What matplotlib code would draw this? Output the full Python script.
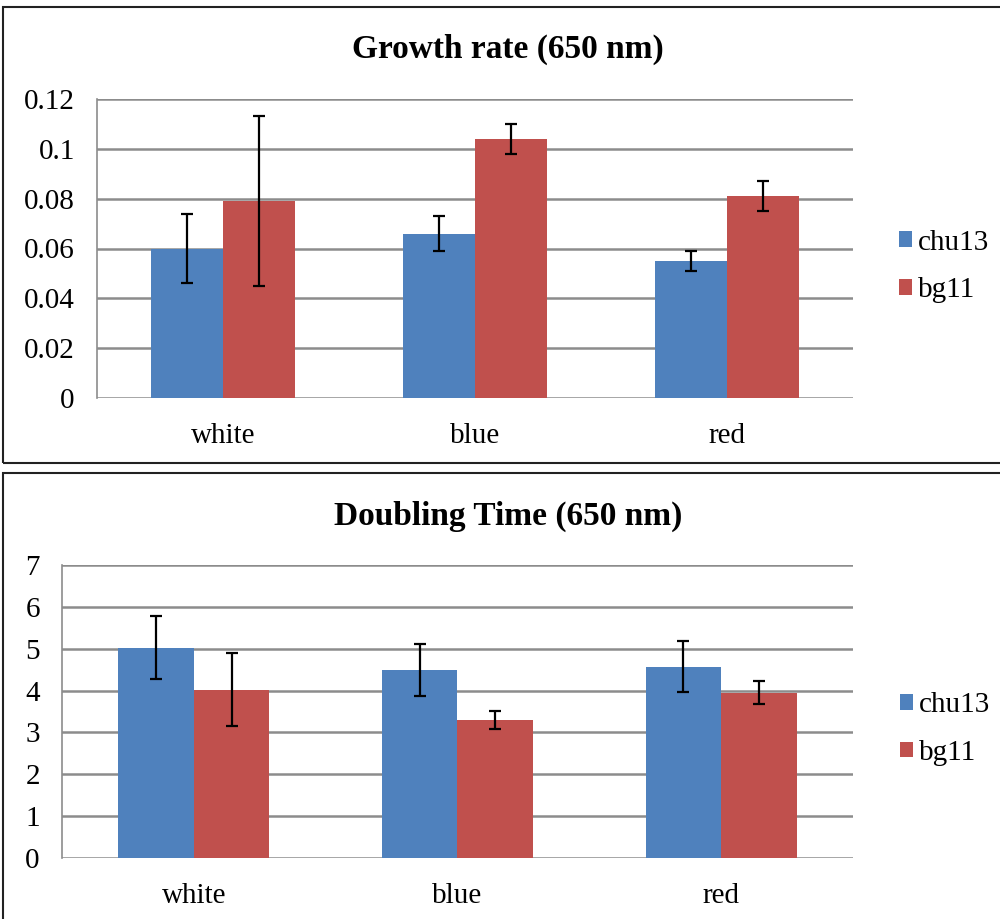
import matplotlib
matplotlib.use("Agg")
import matplotlib.pyplot as plt
import numpy as np
from matplotlib.patches import Rectangle

plt.rcParams['font.family'] = ['Liberation Serif', 'DejaVu Serif']

categories = ['white', 'blue', 'red']
series_names = ['chu13', 'bg11']

growth_chu13 = [0.060, 0.066, 0.055]
growth_chu13_err = [0.014, 0.007, 0.004]
growth_bg11 = [0.079, 0.104, 0.081]
growth_bg11_err = [0.034, 0.006, 0.006]

doubling_chu13 = [5.02, 4.50, 4.57]
doubling_chu13_err = [0.75, 0.62, 0.61]
doubling_bg11 = [4.02, 3.30, 3.95]
doubling_bg11_err = [0.87, 0.21, 0.28]

blue = '#4f81bd'
red = '#c0504d'
grid_col = '#8c8c8c'

W, H = 1000, 919
fig = plt.figure(figsize=(W / 100, H / 100), dpi=100)


def box(x0, y0, x1, y1):
    # pixel coords, origin top-left
    r = Rectangle((x0 / W, 1 - y1 / H), (x1 - x0) / W, (y1 - y0) / H,
                  transform=fig.transFigure, fill=False, edgecolor='#222222',
                  linewidth=1.5, clip_on=False)
    fig.add_artist(r)


def axes_px(x0, y0, x1, y1):
    return fig.add_axes([x0 / W, 1 - y1 / H, (x1 - x0) / W, (y1 - y0) / H])


def draw(ax, title, v1, e1, v2, e2, ymax, step, ylabels, title_y):
    x = np.arange(len(categories))
    bw = 0.286
    ax.bar(x - bw / 2, v1, bw, color=blue, label=series_names[0], zorder=3,
           edgecolor='none')
    ax.bar(x + bw / 2, v2, bw, color=red, label=series_names[1], zorder=3,
           edgecolor='none')
    ax.errorbar(x - bw / 2, v1, yerr=e1, fmt='none', ecolor='black',
                elinewidth=1.6, capsize=4.5, capthick=1.6, zorder=4)
    ax.errorbar(x + bw / 2, v2, yerr=e2, fmt='none', ecolor='black',
                elinewidth=1.6, capsize=4.5, capthick=1.6, zorder=4)
    ax.set_xlim(-0.5, 2.5)
    ax.set_ylim(0, ymax)
    ticks = np.arange(0, ymax + step / 2, step)
    ax.set_yticks(ticks)
    ax.set_yticklabels(ylabels, fontsize=21)
    ax.set_xticks(x)
    ax.set_xticklabels(categories, fontsize=21)
    ax.tick_params(axis='y', length=0, pad=16)
    ax.tick_params(axis='x', length=0, pad=18)
    ax.grid(axis='y', color=grid_col, linewidth=1.8, zorder=0)
    for s in ['top', 'right', 'bottom']:
        ax.spines[s].set_visible(False)
    ax.spines['left'].set_color(grid_col)
    ax.spines['left'].set_linewidth(1.2)
    ax.set_axisbelow(True)
    fig.text(0.508, title_y, title, ha='center', va='center', fontsize=24,
             fontweight='bold')
    ax.legend(loc='center left', bbox_to_anchor=(1.045, 0.44), frameon=False,
              fontsize=21, handlelength=0.45, handleheight=0.45,
              handletextpad=0.2, labelspacing=0.75, borderaxespad=0)


box(3, 7, 1010, 463)
box(3, 473, 1010, 930)

ax1 = axes_px(97, 99, 853, 398)
draw(ax1, 'Growth rate (650 nm)', growth_chu13, growth_chu13_err,
     growth_bg11, growth_bg11_err, 0.12, 0.02,
     ['0', '0.02', '0.04', '0.06', '0.08', '0.1', '0.12'], 1 - 49 / H)

ax2 = axes_px(62, 565, 853, 858)
draw(ax2, 'Doubling Time (650 nm)', doubling_chu13, doubling_chu13_err,
     doubling_bg11, doubling_bg11_err, 7, 1,
     ['0', '1', '2', '3', '4', '5', '6', '7'], 1 - 516 / H)

fig.savefig('out.png', dpi=100, facecolor='white')
